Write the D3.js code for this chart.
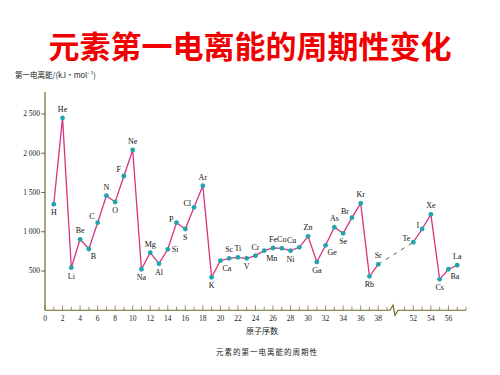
<!DOCTYPE html>
<html><head><meta charset="utf-8">
<script src="https://cdn.jsdelivr.net/npm/d3@7"></script>
<style>body{margin:0;background:#fff}svg{display:block}</style>
</head><body>
<svg id="c" width="500" height="375"></svg>
<script>
// ---- data ----
const symbols = ["H","He","Li","Be","B","C","N","O","F","Ne","Na","Mg","Al","Si","P","S","Cl","Ar","K","Ca","Sc","Ti","V","Cr","Mn","Fe","Co","Ni","Cu","Zn","Ga","Ge","As","Se","Br","Kr","Rb","Sr","Te","I","Xe","Cs","Ba","La"];
const atomicNumbers = [1,2,3,4,5,6,7,8,9,10,11,12,13,14,15,16,17,18,19,20,21,22,23,24,25,26,27,28,29,30,31,32,33,34,35,36,37,38,52,53,54,55,56,57];
const energies = [1350,2450,542,904,780,1115,1459,1379,1710,2042,522,733,593,776,1115,1035,1311,1587,420,631,661,674,661,695,759,793,789,759,802,942,615,827,1057,980,1179,1362,432,585,866,1035,1222,394,522,573];
const yTicks = [500,1000,1500,2000,2500];
const yTickLabels = ["500","1 000","1 500","2 000","2 500"];
const xTicksLeft = [0,2,4,6,8,10,12,14,16,18,20,22,24,26,28,30,32,34,36,38];
const xTicksRight = [52,54,56];
const title = "元素第一电离能的周期性变化";
const yLabel = "第一电离能/(kJ·mol⁻¹)";
const xLabel = "原子序数";
const caption = "元素的第一电离能的周期性";

// ---- label placement (style) ----
const place = {H:"b",He:"a",Li:"b",Be:"a",B:"br",C:"al",N:"a",O:"b",F:"al",Ne:"a",Na:"b",Mg:"a",Al:"b",Si:"r",P:"l",S:"b",Cl:"l",Ar:"a",K:"b",Ca:"br",Sc:"a",Ti:"a",V:"b",Cr:"a",Mn:"br",Fe:"a",Co:"a",Ni:"b",Cu:"al",Zn:"a",Ga:"b",Ge:"br",As:"a",Se:"b",Br:"al",Kr:"a",Rb:"b",Sr:"a",Te:"l",I:"l",Xe:"a",Cs:"b",Ba:"br",La:"a"};

const svg = d3.select("#c");
const x = d3.scaleLinear().domain([0,39.8,49.8,58]).range([45,394,394,466]);
const y = d3.scaleLinear().domain([0,2780]).range([310.25,92]);
const axisColor = "#6e6a22";
const serif = "'Liberation Serif','DejaVu Serif',serif";

const pts = atomicNumbers.map((n,i)=>({n, e:energies[i], s:symbols[i]}));

// title
svg.append("text").attr("x",250).attr("y",58).attr("text-anchor","middle")
  .attr("fill","#f00000").attr("font-family","'Noto Sans CJK SC',sans-serif")
  .attr("font-weight","bold").attr("font-size",31).text(title);

// y label
svg.append("text").attr("x",15).attr("y",78).attr("font-family","'Noto Sans CJK SC',sans-serif")
  .attr("font-size",7.5).attr("fill","#222").text(yLabel);

// y axis
svg.append("line").attr("x1",45).attr("x2",45).attr("y1",y(2780)).attr("y2",y(0))
  .attr("stroke",axisColor).attr("stroke-width",1.2);
const yt = svg.append("g");
yTicks.forEach((v,i)=>{
  yt.append("line").attr("x1",41).attr("x2",45).attr("y1",y(v)).attr("y2",y(v)).attr("stroke","#333").attr("stroke-width",0.7);
  yt.append("text").attr("x",40).attr("y",y(v)+2.5).attr("text-anchor","end")
    .attr("font-family",serif).attr("font-size",7.5).attr("fill","#222").text(yTickLabels[i]);
});

// x axis with break
const y0 = y(0);
const bx = x(39.8);
svg.append("path").attr("d",`M45,${y0}H${bx-4}L${bx-1},${y0-5}L${bx+1},${y0+5}L${bx+4},${y0}H${x(58)}`)
  .attr("fill","none").attr("stroke",axisColor).attr("stroke-width",1.2);
const xt = svg.append("g");
const minorTicks = d3.range(0,40).concat(d3.range(51,59));
minorTicks.forEach(n=>{
  const major = n%2===0 && (n<=38 || (n>=52 && n<=56));
  xt.append("line").attr("x1",x(n)).attr("x2",x(n)).attr("y1",y0).attr("y2",y0-(major?5:3.5))
    .attr("stroke",axisColor).attr("stroke-width",0.7);
});
xTicksLeft.concat(xTicksRight).forEach(n=>{
  xt.append("text").attr("x",x(n)).attr("y",y0+11).attr("text-anchor","middle")
    .attr("font-family",serif).attr("font-size",7.5).attr("fill","#222").text(n);
});
svg.append("text").attr("x",262).attr("y",334).attr("text-anchor","middle")
  .attr("font-family","'Noto Sans CJK SC',sans-serif").attr("font-size",8).attr("fill","#222").text(xLabel);
svg.append("text").attr("x",267).attr("y",355).attr("text-anchor","middle")
  .attr("font-family","'Noto Sans CJK SC',sans-serif").attr("font-size",7.5).attr("fill","#222")
  .attr("letter-spacing",1).text(caption);

// lines
const line = d3.line().x(d=>x(d.n)).y(d=>y(d.e));
const lineColor = "#d8327f";
svg.append("path").datum(pts.filter(d=>d.n<=38)).attr("d",line)
  .attr("fill","none").attr("stroke",lineColor).attr("stroke-width",1.3);
svg.append("path").datum(pts.filter(d=>d.n>=52)).attr("d",line)
  .attr("fill","none").attr("stroke",lineColor).attr("stroke-width",1.3);
svg.append("path").datum(pts.filter(d=>d.n===38||d.n===52)).attr("d",line)
  .attr("fill","none").attr("stroke","#333").attr("stroke-width",0.8).attr("stroke-dasharray","4,5");

// markers
svg.append("g").selectAll("circle").data(pts).join("circle")
  .attr("cx",d=>x(d.n)).attr("cy",d=>y(d.e)).attr("r",2.4)
  .attr("fill","#1ea6ad");

// element labels
const off = {a:[0,-6,"middle"], b:[0,11,"middle"], br:[2,10,"start"], al:[-3,-4,"end"], l:[-3,-1,"end"], r:[4,3,"start"]};
svg.append("g").selectAll("text").data(pts).join("text")
  .attr("x",d=>x(d.n)+off[place[d.s]][0]).attr("y",d=>y(d.e)+off[place[d.s]][1])
  .attr("text-anchor",d=>off[place[d.s]][2])
  .attr("font-family",serif).attr("font-size",8).attr("fill","#111").text(d=>d.s);
</script>
</body></html>
